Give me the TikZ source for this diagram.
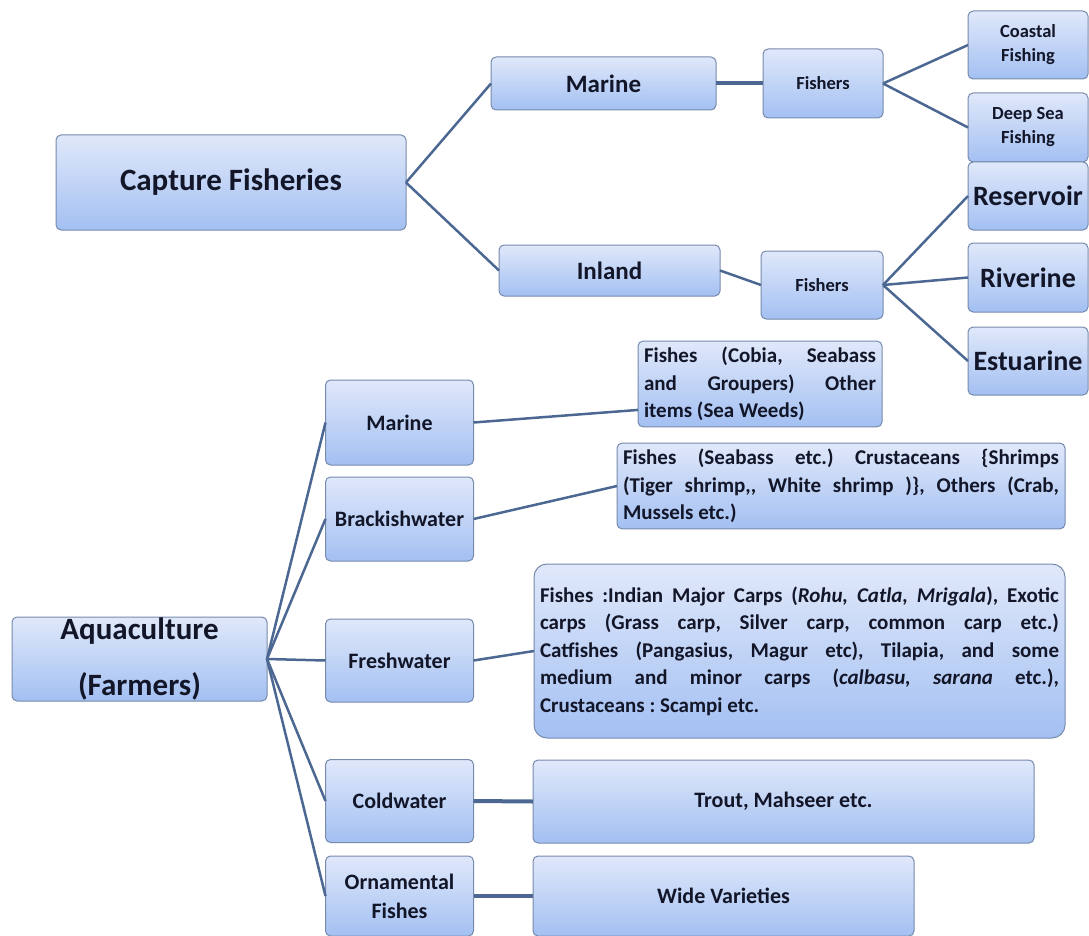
\documentclass[tikz,border=0pt]{standalone}
\usepackage{fontspec}
\setmainfont{Carlito}
\usepackage{tikz}

\definecolor{boxtop}{RGB}{224,232,250}
\definecolor{boxbot}{RGB}{163,192,242}
\definecolor{boxline}{RGB}{118,138,172}
\definecolor{linkcol}{RGB}{76,104,146}
\definecolor{ink}{RGB}{18,22,40}
\newcommand{\loosepar}{\tolerance10000\hyphenpenalty10000\frenchspacing\relax}

\begin{document}
\begin{tikzpicture}[x=1pt,y=-1pt,
    box/.style={draw=boxline,line width=1pt,rounded corners=5pt,top color=boxtop,bottom color=boxbot,
      text=ink,inner sep=0pt,outer sep=0pt,align=center},
    para/.style={box,align=justify,inner sep=6pt,
      font=\fontsize{21}{27.5}\selectfont\bfseries\loosepar},
    headtxt/.style={font=\fontsize{31}{56}\selectfont\bfseries},
    toptxt/.style={font=\fontsize{25}{30}\selectfont\bfseries},
    areatxt/.style={font=\fontsize{28}{34}\selectfont\bfseries},
    smalltxt/.style={font=\fontsize{18.5}{24}\selectfont\bfseries},
    itemtxt/.style={font=\fontsize{22}{29}\selectfont\bfseries},
    link/.style={draw=linkcol,line width=2.5pt},
    bar/.style={draw=linkcol,line width=4pt}]
  \useasboundingbox (0,0) rectangle (1089,936);
  %% capture side
  \node[box,headtxt,minimum width=350,minimum height=95] (cap) at (231,182.5) {Capture Fisheries};
  \node[box,toptxt,minimum width=225,minimum height=53] (mar) at (603.5,83.5) {Marine};
  \node[box,toptxt,minimum width=221,minimum height=51] (inl) at (609.5,270.5) {Inland};
  \node[box,smalltxt,minimum width=120,minimum height=69] (fisa) at (823,83.5) {Fishers};
  \node[box,smalltxt,minimum width=122,minimum height=68] (fisb) at (822,285) {Fishers};
  \node[box,smalltxt,minimum width=120,minimum height=68] (coa) at (1028,45) {Coastal\\Fishing};
  \node[box,smalltxt,minimum width=120,minimum height=69] (dee) at (1028,127.5) {Deep Sea\\Fishing};
  \node[box,areatxt,minimum width=120,minimum height=68] (res) at (1028,196) {Reservoir};
  \node[box,areatxt,minimum width=120,minimum height=69] (riv) at (1028,277.5) {Riverine};
  \node[box,areatxt,minimum width=120,minimum height=68] (est) at (1028,361) {Estuarine};
  \draw[link] (cap.east) -- (mar.west);
  \draw[link] (cap.east) -- (inl.west);
  \draw[bar] (mar.east) -- (fisa.west);
  \draw[link] (inl.east) -- (fisb.west);
  \draw[link] (fisa.east) -- (coa.west);
  \draw[link] (fisa.east) -- (dee.west);
  \foreach \n in {res,riv,est}
    \draw[link] (fisb.east) -- (\n.west);
  %% aquaculture side
  \node[box,headtxt,minimum width=255,minimum height=84] (aqu) at (139.5,659) {Aquaculture\\(Farmers)};
  \node[box,itemtxt,minimum width=148,minimum height=85] (amar) at (399.5,422.5) {Marine};
  \node[box,itemtxt,minimum width=148,minimum height=84] (abra) at (399.5,519) {Brackishwater};
  \node[box,itemtxt,minimum width=148,minimum height=83] (afre) at (399.5,660.5) {Freshwater};
  \node[box,itemtxt,minimum width=148,minimum height=83] (acol) at (399.5,801) {Coldwater};
  \node[box,itemtxt,minimum width=148,minimum height=80] (aorn) at (399.5,896) {Ornamental\\Fishes};
  \node[para,text width=232,minimum height=84] (dmar) at (760,384)
    {Fishes (Cobia, Seabass\linebreak and Groupers) Other\linebreak items (Sea Weeds)};
  \node[para,text width=436,minimum height=82] (dbra) at (841,486)
    {Fishes (Seabass etc.) Crustaceans \{Shrimps\linebreak (Tiger shrimp,{}, White shrimp )\}, Others (Crab,\linebreak Mussels etc.)};
  \node[para,text width=519,minimum height=174,rounded corners=13pt] (dfre) at (799.5,651)
    {Fishes :Indian Major Carps (\textit{Rohu, Catla, Mrigala}), Exotic\linebreak
     carps (Grass carp, Silver carp, common carp etc.)\linebreak
     Catfishes (Pangasius, Magur etc), Tilapia, and some\linebreak
     medium and minor carps (\textit{calbasu, sarana} etc.),\linebreak
     Crustaceans : Scampi etc.};
  \node[box,itemtxt,minimum width=501,minimum height=83] (dcol) at (783.5,801.5) {Trout, Mahseer etc.};
  \node[box,itemtxt,minimum width=381,minimum height=80] (dorn) at (723.5,896) {Wide Varieties};
  \foreach \n in {amar,abra,afre,acol,aorn}
    \draw[link] (aqu.east) -- (\n.west);
  \draw[link] (amar.east) -- (dmar.192);
  \draw[link] (abra.east) -- (dbra.west);
  \draw[link] (afre.east) -- (dfre.west);
  \draw[bar] (acol.east) -- (dcol.west);
  \draw[bar] (aorn.east) -- (dorn.west);
\end{tikzpicture}
\end{document}
